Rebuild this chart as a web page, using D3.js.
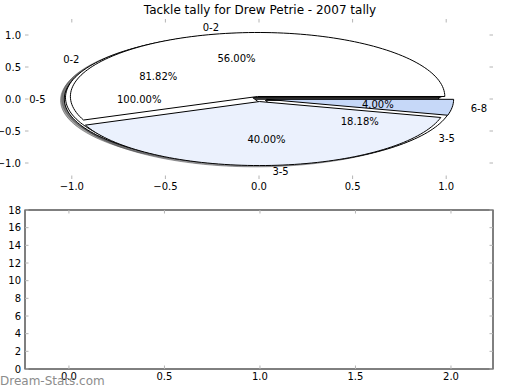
<!DOCTYPE html>
<html>
<head>
<meta charset="utf-8">
<script src="https://cdn.jsdelivr.net/npm/d3@7"></script>
<style>
body { margin: 0; background: #fff; }
text { font-family: "DejaVu Sans", sans-serif; }
</style>
</head>
<body>
<script>
// tackle tallies, one pie per group (counts read back from the percentages)
var pie1Labels = ["0-2", "3-5", "6-8"];
var pie1Values = [14, 10, 1];
var pie2Labels = ["0-2", "3-5"];
var pie2Values = [9, 2];
var pie3Labels = ["0-5"];
var pie3Values = [1];

// tick labels
var pieTicks = [-1.0, -0.5, 0.0, 0.5, 1.0];
var lowerXTicks = [0.0, 0.5, 1.0, 1.5, 2.0];
var lowerYTicks = [0, 2, 4, 6, 8, 10, 12, 14, 16, 18];

var title = "Tackle tally for Drew Petrie - 2007 tally";
var watermark = "Dream-Stats.com";

var width = 520, height = 390;
var explode = 0.04;

var svg = d3.select("body")
	.append("svg")
	.attr("width", width)
	.attr("height", height);

// top axes (pie), no frame
var x = d3.scaleLinear().domain([-1.25, 1.25]).range([25, 493]);
var y = d3.scaleLinear().domain([-1.25, 1.25]).range([179, 19]);

// lower axes (empty)
var x2 = d3.scaleLinear().domain([-0.23, 2.22]).range([25, 493]);
var y2 = d3.scaleLinear().domain([0, 18]).range([369, 210]);

// build the wedges the way matplotlib does (start at 0, counter-clockwise)
function makeWedges(values, labels, colors) {
	var total = d3.sum(values);
	var t1 = 0;
	var out = [];
	values.forEach(function(v, i) {
		var t2 = t1 + v / total;
		var tm = Math.PI * (t1 + t2);
		out.push({
			cx: explode * Math.cos(tm),
			cy: explode * Math.sin(tm),
			a1: 2 * Math.PI * t1,
			a2: 2 * Math.PI * t2,
			tm: tm,
			label: labels[i],
			pct: 100 * v / total,
			color: colors[i]
		});
		t1 = t2;
	});
	return out;
}

// drawn bottom to top
var wedges = []
	.concat(makeWedges(pie3Values, pie3Labels, ["#ffffff"]))
	.concat(makeWedges(pie2Values, pie2Labels, ["#ffffff", "#ffffff"]))
	.concat(makeWedges(pie1Values, pie1Labels, ["#ffffff", "#ebf1fd", "#c6d8f8"]));

var line = d3.line()
	.x(function(d) { return x(d[0]); })
	.y(function(d) { return y(d[1]); });

function wedgePath(w, ox, oy) {
	var pts = [[w.cx + ox, w.cy + oy]];
	var n = Math.max(2, Math.ceil((w.a2 - w.a1) / (2 * Math.PI) * 200));
	for (var k = 0; k <= n; k++) {
		var a = w.a1 + (w.a2 - w.a1) * k / n;
		pts.push([w.cx + ox + Math.cos(a), w.cy + oy + Math.sin(a)]);
	}
	return line(pts) + "Z";
}

// shadows sit under every wedge
svg.append("g").selectAll("path")
	.data(wedges)
	.enter()
	.append("path")
	.attr("d", function(d) { return wedgePath(d, -0.02, -0.02); })
	.style("fill", function(d) {
		var c = d3.rgb(d.color);
		return d3.rgb(c.r * 0.3, c.g * 0.3, c.b * 0.3, 0.5).toString();
	})
	.style("stroke", function(d) {
		var c = d3.rgb(d.color);
		return d3.rgb(c.r * 0.3, c.g * 0.3, c.b * 0.3, 0.5).toString();
	})
	.style("stroke-width", 1);

svg.append("g").selectAll("path")
	.data(wedges)
	.enter()
	.append("path")
	.attr("d", function(d) { return wedgePath(d, 0, 0); })
	.style("fill", function(d) { return d.color; })
	.style("stroke", "#000")
	.style("stroke-width", 1)
	.style("stroke-linejoin", "round");

// slice labels
svg.append("g").selectAll("text")
	.data(wedges)
	.enter()
	.append("text")
	.attr("x", function(d) { return x(d.cx + 1.1 * Math.cos(d.tm)); })
	.attr("y", function(d) { return y(d.cy + 1.1 * Math.sin(d.tm)); })
	.attr("dy", "0.35em")
	.style("text-anchor", function(d) { return d.cx + 1.1 * Math.cos(d.tm) > 0 ? "start" : "end"; })
	.style("font-size", "10px")
	.text(function(d) { return d.label; });

// percentages
svg.append("g").selectAll("text")
	.data(wedges)
	.enter()
	.append("text")
	.attr("x", function(d) { return x(d.cx + 0.6 * Math.cos(d.tm)); })
	.attr("y", function(d) { return y(d.cy + 0.6 * Math.sin(d.tm)); })
	.attr("dy", "0.35em")
	.style("text-anchor", "middle")
	.style("font-size", "10px")
	.text(function(d) { return d3.format(".2f")(d.pct) + "%"; });

// ticks, matplotlib style: inward on all four sides
function ticks(xs, ys, xv, yv, fmtX, fmtY) {
	var g = svg.append("g");
	var x0 = xs.range()[0], x1 = xs.range()[1];
	var yb = ys.range()[0], yt = ys.range()[1];
	xv.forEach(function(v) {
		g.append("line").attr("x1", xs(v)).attr("x2", xs(v)).attr("y1", yb).attr("y2", yb - 3.5);
		g.append("line").attr("x1", xs(v)).attr("x2", xs(v)).attr("y1", yt).attr("y2", yt + 3.5);
		g.append("text")
			.attr("x", xs(v))
			.attr("y", yb + 11)
			.style("text-anchor", "middle")
			.style("font-size", "10px")
			.text(fmtX(v));
	});
	yv.forEach(function(v) {
		g.append("line").attr("x1", x0).attr("x2", x0 + 3.5).attr("y1", ys(v)).attr("y2", ys(v));
		g.append("line").attr("x1", x1).attr("x2", x1 - 3.5).attr("y1", ys(v)).attr("y2", ys(v));
		g.append("text")
			.attr("x", x0 - 4)
			.attr("y", ys(v))
			.attr("dy", "0.35em")
			.style("text-anchor", "end")
			.style("font-size", "10px")
			.text(fmtY(v));
	});
	g.selectAll("line").style("stroke", "#b4b4b4").style("stroke-width", 1);
}

ticks(x, y, pieTicks, pieTicks, d3.format(".1f"), d3.format(".1f"));

// lower axes frame
svg.append("rect")
	.attr("x", x2.range()[0])
	.attr("y", y2.range()[1])
	.attr("width", x2.range()[1] - x2.range()[0])
	.attr("height", y2.range()[0] - y2.range()[1])
	.style("fill", "none")
	.style("stroke", "#000")
	.style("stroke-width", 1);

ticks(x2, y2, lowerXTicks, lowerYTicks, d3.format(".1f"), d3.format("d"));

// title
svg.append("text")
	.attr("x", 260)
	.attr("y", 14)
	.style("text-anchor", "middle")
	.style("font-size", "12px")
	.text(title);

// watermark
svg.append("text")
	.attr("x", 0)
	.attr("y", 385)
	.style("font-size", "12px")
	.style("fill", "#8c8c8c")
	.text(watermark);
</script>
</body>
</html>
